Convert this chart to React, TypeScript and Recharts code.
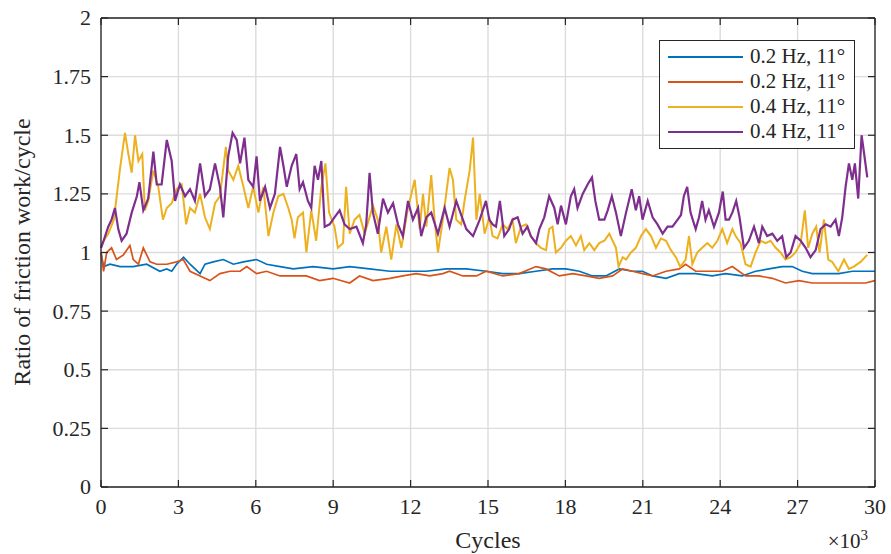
import { LineChart, Line, XAxis, YAxis, CartesianGrid, ReferenceLine, Legend, Label } from "recharts";

// [cycles (x1000), ratio]
const blue02: [number, number][] = [
  [0, 1.0], [0.1, 0.94], [0.35, 0.95], [0.74, 0.94], [1.25, 0.94], [1.77, 0.95], [2.28, 0.92], [2.55, 0.93],
  [2.74, 0.92], [2.93, 0.95], [3.2, 0.98], [3.45, 0.95], [3.84, 0.91], [4.03, 0.95], [4.35, 0.96], [4.74, 0.97],
  [5.13, 0.95], [5.52, 0.96], [6.03, 0.97], [6.42, 0.95], [6.94, 0.94], [7.45, 0.93], [8.22, 0.94], [9.0, 0.93],
  [9.64, 0.94], [10.41, 0.93], [11.2, 0.92], [11.96, 0.92], [12.6, 0.92], [13.38, 0.93], [14.16, 0.93], [14.93, 0.92],
  [15.57, 0.91], [16.21, 0.91], [16.86, 0.92], [17.5, 0.93], [18.02, 0.93], [18.54, 0.92], [19.05, 0.9], [19.57, 0.9],
  [20.09, 0.93], [20.6, 0.92], [20.99, 0.92], [21.38, 0.9], [21.9, 0.89], [22.41, 0.91], [23.05, 0.91], [23.69, 0.9],
  [24.21, 0.91], [24.85, 0.9], [25.37, 0.92], [25.89, 0.93], [26.4, 0.94], [26.79, 0.94], [27.18, 0.92], [27.57, 0.91],
  [28.09, 0.91], [28.6, 0.91], [29.12, 0.92], [29.63, 0.92], [30, 0.92],
];

const orange02: [number, number][] = [
  [0, 1.0], [0.1, 0.92], [0.22, 1.0], [0.41, 1.02], [0.6, 0.97], [0.87, 0.99], [1.12, 1.03], [1.25, 0.97],
  [1.45, 0.95], [1.64, 1.02], [1.9, 0.96], [2.16, 0.95], [2.55, 0.95], [2.93, 0.96], [3.19, 0.97], [3.45, 0.92],
  [3.84, 0.9], [4.22, 0.88], [4.61, 0.91], [5.0, 0.92], [5.39, 0.92], [5.65, 0.94], [6.03, 0.91], [6.42, 0.92],
  [6.94, 0.9], [7.45, 0.9], [7.96, 0.9], [8.47, 0.88], [8.99, 0.89], [9.64, 0.87], [10.02, 0.9], [10.54, 0.88],
  [11.2, 0.89], [11.7, 0.9], [12.22, 0.91], [12.74, 0.9], [13.25, 0.91], [13.51, 0.92], [14.03, 0.9], [14.55, 0.9],
  [14.93, 0.92], [15.57, 0.9], [16.21, 0.91], [16.86, 0.94], [17.25, 0.93], [17.76, 0.9], [18.28, 0.91], [18.8, 0.9],
  [19.31, 0.89], [19.83, 0.9], [20.22, 0.93], [20.6, 0.92], [20.99, 0.91], [21.38, 0.9], [21.9, 0.92], [22.41, 0.93],
  [22.66, 0.95], [23.05, 0.92], [23.56, 0.92], [24.08, 0.92], [24.47, 0.94], [24.98, 0.9], [25.5, 0.9], [26.02, 0.89],
  [26.53, 0.87], [27.05, 0.88], [27.57, 0.87], [28.09, 0.87], [28.6, 0.87], [29.12, 0.87], [29.63, 0.87], [30, 0.88],
];

const yellow04: [number, number][] = [
  [0, 1.02], [0.1, 1.05], [0.28, 1.08], [0.5, 1.14], [0.74, 1.36], [0.93, 1.51], [1.06, 1.42], [1.19, 1.34],
  [1.32, 1.5], [1.45, 1.39], [1.6, 1.42], [1.7, 1.18], [1.83, 1.22], [2.03, 1.35], [2.22, 1.28], [2.4, 1.14],
  [2.55, 1.19], [2.74, 1.21], [2.93, 1.27], [3.13, 1.29], [3.3, 1.12], [3.45, 1.19], [3.64, 1.17], [3.84, 1.25],
  [4.03, 1.15], [4.22, 1.1], [4.42, 1.21], [4.61, 1.24], [4.84, 1.45], [4.93, 1.35], [5.13, 1.31], [5.32, 1.37],
  [5.52, 1.28], [5.71, 1.19], [5.9, 1.28], [6.1, 1.17], [6.29, 1.28], [6.49, 1.07], [6.68, 1.17], [6.87, 1.24],
  [7.07, 1.25], [7.26, 1.19], [7.39, 1.14], [7.5, 1.06], [7.63, 1.15], [7.83, 1.17], [7.96, 1.0], [8.15, 1.18],
  [8.34, 1.05], [8.54, 1.28], [8.7, 1.38], [8.84, 1.17], [9.05, 1.11], [9.18, 1.02], [9.38, 1.04], [9.5, 1.28],
  [9.64, 1.08], [9.83, 1.14], [10.02, 1.16], [10.22, 1.08], [10.54, 1.2], [10.73, 1.14], [10.86, 1.0], [11.06, 1.11],
  [11.25, 0.97], [11.45, 1.12], [11.64, 1.02], [11.9, 1.19], [12.16, 1.31], [12.35, 1.1], [12.48, 1.25], [12.61, 1.11],
  [12.8, 1.33], [12.93, 1.14], [13.06, 1.0], [13.25, 1.14], [13.51, 1.36], [13.64, 1.31], [13.77, 1.14], [13.96, 1.12],
  [14.09, 1.22], [14.29, 1.35], [14.42, 1.49], [14.55, 1.14], [14.68, 1.25], [14.87, 1.08], [15.05, 1.15], [15.18, 1.07],
  [15.37, 1.06], [15.57, 1.12], [15.76, 1.1], [15.95, 1.14], [16.08, 1.04], [16.28, 1.11], [16.47, 1.12], [16.66, 1.07],
  [16.86, 1.04], [17.05, 1.02], [17.25, 1.01], [17.37, 1.1], [17.5, 1.11], [17.63, 1.0], [17.83, 1.02], [18.02, 1.05],
  [18.21, 1.07], [18.41, 1.03], [18.6, 1.07], [18.73, 1.01], [18.93, 1.04], [19.12, 1.01], [19.31, 1.04], [19.51, 1.05],
  [19.7, 1.08], [19.83, 1.05], [19.96, 1.02], [20.06, 0.94], [20.22, 0.98], [20.35, 0.97], [20.54, 1.0], [20.73, 1.02],
  [20.93, 1.07], [21.12, 1.1], [21.32, 1.07], [21.51, 1.02], [21.7, 1.06], [21.9, 1.05], [22.09, 1.01], [22.28, 0.98],
  [22.45, 0.94], [22.53, 0.95], [22.66, 0.97], [22.79, 1.07], [22.92, 0.95], [23.11, 1.0], [23.3, 1.02], [23.5, 1.04],
  [23.69, 1.02], [23.89, 1.05], [24.08, 1.1], [24.27, 1.04], [24.47, 1.1], [24.6, 1.07], [24.79, 1.04], [24.98, 0.95],
  [25.18, 0.94], [25.37, 1.0], [25.57, 1.05], [25.76, 1.04], [25.95, 1.05], [26.15, 1.02], [26.34, 1.0], [26.53, 0.97],
  [26.73, 0.98], [26.92, 1.0], [27.12, 1.04], [27.28, 1.18], [27.41, 1.02], [27.57, 1.08], [27.72, 1.11], [27.85, 1.0],
  [28.02, 1.14], [28.19, 0.97], [28.34, 0.96], [28.58, 0.92], [28.8, 0.97], [28.99, 0.93], [29.18, 0.94], [29.44, 0.96],
  [29.7, 0.99],
];

const purple04: [number, number][] = [
  [0, 1.02], [0.1, 1.05], [0.28, 1.11], [0.41, 1.14], [0.54, 1.19], [0.67, 1.1], [0.8, 1.05], [0.99, 1.08],
  [1.19, 1.17], [1.39, 1.24], [1.49, 1.3], [1.64, 1.18], [1.83, 1.23], [2.03, 1.43], [2.16, 1.29], [2.35, 1.29],
  [2.55, 1.48], [2.74, 1.39], [2.87, 1.22], [3.06, 1.29], [3.26, 1.24], [3.45, 1.27], [3.64, 1.22], [3.84, 1.38],
  [4.03, 1.24], [4.22, 1.27], [4.42, 1.38], [4.61, 1.28], [4.74, 1.15], [4.93, 1.41], [5.1, 1.51], [5.26, 1.48],
  [5.39, 1.38], [5.56, 1.49], [5.71, 1.31], [5.9, 1.28], [6.03, 1.41], [6.16, 1.22], [6.36, 1.28], [6.55, 1.19],
  [6.74, 1.25], [6.94, 1.45], [7.07, 1.37], [7.2, 1.28], [7.39, 1.37], [7.5, 1.4], [7.57, 1.42], [7.7, 1.27],
  [7.83, 1.3], [8.02, 1.22], [8.15, 1.19], [8.28, 1.37], [8.41, 1.31], [8.54, 1.39], [8.67, 1.11], [8.86, 1.12],
  [9.05, 1.15], [9.25, 1.18], [9.44, 1.12], [9.64, 1.1], [9.9, 1.11], [10.15, 1.04], [10.28, 1.12], [10.41, 1.34],
  [10.54, 1.17], [10.73, 1.08], [10.93, 1.23], [11.12, 1.17], [11.32, 1.21], [11.51, 1.12], [11.7, 1.07], [11.9, 1.22],
  [12.09, 1.14], [12.29, 1.19], [12.41, 1.07], [12.61, 1.15], [12.8, 1.17], [13.06, 1.08], [13.32, 1.19], [13.51, 1.11],
  [13.77, 1.22], [13.96, 1.16], [14.16, 1.1], [14.42, 1.07], [14.68, 1.14], [14.92, 1.22], [15.05, 1.14], [15.18, 1.12],
  [15.31, 1.11], [15.46, 1.22], [15.63, 1.07], [15.82, 1.1], [15.95, 1.14], [16.15, 1.15], [16.34, 1.08], [16.53, 1.11],
  [16.66, 1.07], [16.86, 1.04], [16.99, 1.1], [17.18, 1.15], [17.37, 1.24], [17.57, 1.19], [17.7, 1.12], [17.83, 1.2],
  [18.02, 1.12], [18.21, 1.24], [18.34, 1.27], [18.47, 1.19], [18.67, 1.25], [18.86, 1.29], [19.03, 1.32], [19.16, 1.22],
  [19.31, 1.14], [19.51, 1.14], [19.64, 1.18], [19.8, 1.24], [19.96, 1.17], [20.15, 1.07], [20.35, 1.17], [20.57, 1.27],
  [20.73, 1.18], [20.86, 1.24], [20.99, 1.14], [21.19, 1.22], [21.38, 1.15], [21.57, 1.12], [21.77, 1.08], [21.96, 1.11],
  [22.15, 1.11], [22.35, 1.14], [22.48, 1.16], [22.59, 1.24], [22.72, 1.28], [22.85, 1.17], [23.05, 1.1], [23.18, 1.15],
  [23.3, 1.22], [23.43, 1.14], [23.56, 1.18], [23.76, 1.11], [23.95, 1.17], [24.1, 1.26], [24.21, 1.14], [24.34, 1.14],
  [24.47, 1.17], [24.62, 1.22], [24.75, 1.15], [24.92, 1.02], [25.11, 1.05], [25.31, 1.11], [25.5, 1.04], [25.63, 1.11],
  [25.82, 1.07], [26.02, 1.08], [26.21, 1.05], [26.4, 1.07], [26.56, 0.98], [26.73, 1.0], [26.92, 1.07], [27.12, 1.05],
  [27.31, 1.02], [27.5, 0.98], [27.7, 1.01], [27.89, 1.1], [28.09, 1.12], [28.28, 1.11], [28.47, 1.14], [28.6, 1.07],
  [28.73, 1.15], [28.86, 1.28], [28.99, 1.38], [29.12, 1.31], [29.22, 1.38], [29.35, 1.23], [29.48, 1.5], [29.58, 1.42],
  [29.7, 1.32],
];

const xTicks = [0, 3, 6, 9, 12, 15, 18, 21, 24, 27, 30];
const yTicks = [0, 0.25, 0.5, 0.75, 1, 1.25, 1.5, 1.75, 2];

const series = [
  { name: "0.2 Hz, 11°", color: "#0072BD", width: 1.7, pts: blue02 },
  { name: "0.2 Hz, 11°", color: "#D95319", width: 1.7, pts: orange02 },
  { name: "0.4 Hz, 11°", color: "#EDB120", width: 2, pts: yellow04 },
  { name: "0.4 Hz, 11°", color: "#7E2F8E", width: 2.2, pts: purple04 },
];

const FONT = "Liberation Serif, DejaVu Serif, serif";
const INK = "#262626";
const PLOT_W = 774;
const PLOT_H = 469;

function XTick({ x, y, payload }: any) {
  return (
    <g>
      <line x1={x} x2={x} y1={y} y2={y - 7} stroke={INK} strokeWidth={1.2} />
      <line x1={x} x2={x} y1={y - PLOT_H} y2={y - PLOT_H + 7} stroke={INK} strokeWidth={1.2} />
      <text x={x} y={y + 27} textAnchor="middle" fill={INK} fontSize={22} style={{ fontFamily: FONT }}>
        {payload.value}
      </text>
    </g>
  );
}

function YTick({ x, y, payload }: any) {
  return (
    <g>
      <line x1={x} x2={x + 7} y1={y} y2={y} stroke={INK} strokeWidth={1.2} />
      <line x1={x + PLOT_W} x2={x + PLOT_W - 7} y1={y} y2={y} stroke={INK} strokeWidth={1.2} />
      <text x={x - 10} y={y} dy="0.34em" textAnchor="end" fill={INK} fontSize={22} style={{ fontFamily: FONT }}>
        {String(payload.value)}
      </text>
    </g>
  );
}

function LegendBox() {
  return (
    <div
      style={{
        border: `1.5px solid ${INK}`,
        background: "#fff",
        padding: "3px 8px 4px 8px",
        fontFamily: FONT,
        fontSize: 21,
        color: INK,
        width: 178,
      }}
    >
      {series.map((s, i) => (
        <div key={i} style={{ display: "flex", alignItems: "center", height: 25 }}>
          <svg width={75} height={4} style={{ flex: "none" }}>
            <line x1={0} x2={75} y1={2} y2={2} stroke={s.color} strokeWidth={1.8} />
          </svg>
          <span style={{ marginLeft: 7, whiteSpace: "nowrap" }}>{s.name}</span>
        </div>
      ))}
    </div>
  );
}

export default function App() {
  return (
    <div style={{ position: "absolute", left: 0, top: 0, background: "#fff", fontFamily: FONT }}>
      <LineChart width={891} height={554} margin={{ top: 18, right: 16, bottom: 37, left: 61 }}>
        <CartesianGrid stroke="#dcdcdc" strokeWidth={1.4} />
        <XAxis
          dataKey="c"
          type="number"
          domain={[0, 30]}
          ticks={xTicks}
          height={30}
          tickSize={0}
          tickMargin={0}
          tickLine={false}
          tick={<XTick />}
          interval={0}
          axisLine={{ stroke: INK, strokeWidth: 1.3 }}
        >
          <Label
            content={() => (
              <g style={{ fontFamily: FONT }}>
                <text x={488} y={548} textAnchor="middle" fill={INK} fontSize={24}>
                  Cycles
                </text>
                <text x={868} y={548} textAnchor="end" fill={INK} fontSize={21}>
                  ×10
                  <tspan dy={-8} fontSize={15}>3</tspan>
                </text>
              </g>
            )}
          />
        </XAxis>
        <YAxis
          type="number"
          domain={[0, 2]}
          ticks={yTicks}
          width={40}
          tickSize={0}
          tickMargin={0}
          tickLine={false}
          tick={<YTick />}
          interval={0}
          axisLine={{ stroke: INK, strokeWidth: 1.3 }}
        >
          <Label
            content={() => (
              <text
                x={30}
                y={252}
                transform="rotate(-90 30 252)"
                textAnchor="middle"
                fill={INK}
                fontSize={24}
                style={{ fontFamily: FONT }}
              >
                Ratio of friction work/cycle
              </text>
            )}
          />
        </YAxis>
        {series.map((s, i) => (
          <Line
            key={i}
            data={s.pts.map(([c, v]) => ({ c, v }))}
            dataKey="v"
            name={s.name}
            stroke={s.color}
            strokeWidth={s.width}
            dot={false}
            activeDot={false}
            isAnimationActive={false}
            type="linear"
          />
        ))}
        <ReferenceLine y={2} stroke={INK} strokeWidth={1.3} />
        <ReferenceLine x={30} stroke={INK} strokeWidth={1.3} />
        <Legend
          layout="vertical"
          align="center"
          verticalAlign="middle"
          content={<LegendBox />}
          wrapperStyle={{ left: 659, top: 40, width: "auto" }}
        />
      </LineChart>
    </div>
  );
}
